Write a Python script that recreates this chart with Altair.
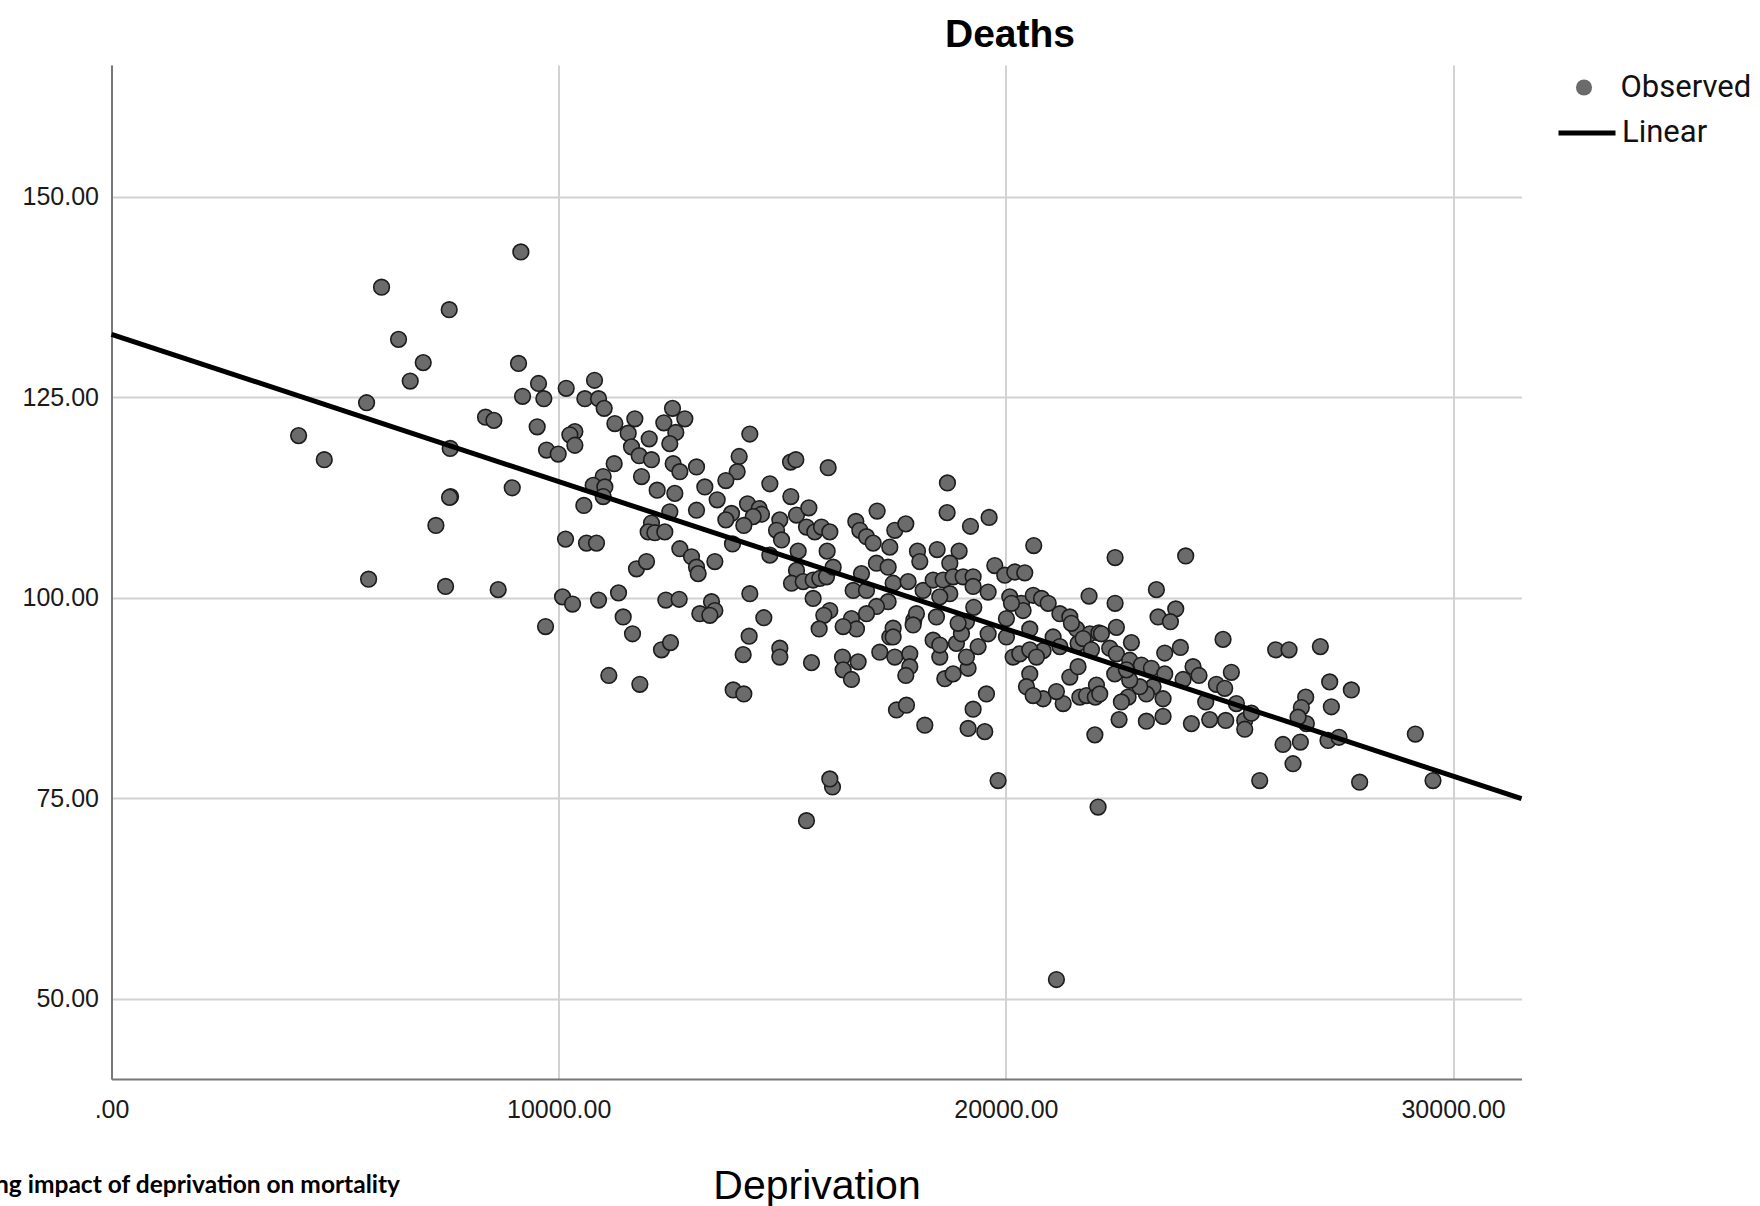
import altair as alt
import pandas as pd

# ---- data ----
deprivation = [
    9154, 6039, 7552, 6419, 6971, 6680, 9102, 5704, 4184, 4758, 7574, 8364, 8551, 9519, 9549, 9192,
    9668, 10168, 10801, 10585, 10891, 11017, 11256, 11703, 11554, 12024, 11628, 11800, 12075, 12545,
    12351, 12821, 12619, 12485, 12560, 12709, 13082, 10362, 10250, 10362, 9728, 9989, 11852, 12202,
    12597, 12485, 13082, 11241, 10995, 10771, 11032, 10995, 10563, 8961, 7582, 7560, 7254, 10153, 10622,
    10846, 12075, 12001, 12150, 12373, 12709, 12970, 13082, 13119, 11740, 11964, 5749, 7470, 8647,
    10086, 10310, 10891, 11338, 12396, 12694, 9706, 11442, 11651, 12299, 12500, 11121, 11815, 13156,
    14274, 14036, 13991, 13738, 13544, 13268, 13492, 13887, 14222, 14483, 14535, 14349, 14140, 13864,
    13738, 14722, 15191, 15318, 15594, 15184, 15303, 16026, 14945, 14871, 14983, 14722, 15355, 15541,
    15727, 15877, 16063, 16003, 15318, 15206, 15467, 15690, 15839, 15989, 15690, 16137, 16063, 15929,
    15824, 16644, 16734, 16883, 17032, 17121, 17404, 17516, 17762, 18693, 18686, 19208, 19625, 20623,
    18023, 18463, 18954, 18075, 18746, 17106, 17367, 16771, 16585, 16883, 17479, 17814, 18149, 18373,
    18597, 18820, 19044, 19267, 19267, 19603, 19752, 19975, 20199, 20422, 18746, 17367, 17106, 16547,
    16883, 16659, 16361, 17941, 18000, 18447, 19282, 19118, 19603, 20012, 20087, 20348, 20612, 20798,
    20946, 21207, 21430, 21580, 21878, 21860, 20012, 20385, 20534, 21056, 20162, 20311, 20534, 20460,
    20833, 21207, 21430, 21281, 20833, 21654, 21803, 22025, 21990, 22062, 19826, 19565, 19267, 19155,
    19528, 18187, 17553, 17777, 18634, 18820, 19155, 18373, 18522, 18894, 19118, 19379, 19006, 17181,
    17516, 17851, 17404, 17479, 17851, 17762, 16346, 16696, 16361, 16547, 15653, 14945, 14945, 14125,
    14259, 14587, 13902, 14140, 14274, 13417, 13492, 13380, 16123, 16063, 15541, 20609, 21615, 21727,
    21614, 21130, 22000, 22080, 21465,
    18522, 18932, 18522, 20534, 20684, 21913, 22844, 20125, 22136, 17926, 17479, 22099,
    22442, 24021, 23366, 22442, 23798, 23403, 23679, 22471, 22807, 22322, 22471, 22769, 23030, 23254,
    23552, 23291, 23515, 23142, 22993, 22732, 22583, 22769, 22434, 22695, 23552, 23902, 24856, 24185,
    24319, 23962, 25042, 24707, 24893, 24469, 24558, 24916, 24148, 23515, 23142, 22531, 25341, 25341,
    25490, 25154, 26033, 26332, 27032, 27241, 27725, 27278, 26704, 26607, 26719, 26533, 27203, 27449,
    26197, 26585, 26421, 25676, 27911, 29156, 29551, 21130,
]
deaths = [
    143.1, 138.7, 135.9, 132.2, 129.3, 127.0, 129.2, 124.3, 120.2, 117.2, 118.6, 122.5, 122.1, 121.3, 126.7, 125.1,
    124.8, 126.1, 127.1, 124.8, 124.8, 123.6, 121.7, 122.3, 120.5, 119.8, 118.8, 117.7, 117.2, 123.6,
    121.8, 122.3, 120.6, 119.2, 116.7, 115.7, 116.3, 120.7, 120.3, 119.0, 118.4, 117.9, 115.1, 113.4,
    113.0, 110.7, 110.9, 116.7, 115.1, 114.0, 113.8, 112.6, 111.5, 113.7, 112.6, 112.5, 109.0, 107.3, 106.8,
    106.8, 109.3, 108.2, 108.1, 108.2, 106.1, 105.1, 103.8, 103.0, 103.6, 104.5, 102.3, 101.4, 101.0,
    100.1, 99.2, 99.7, 100.6, 99.7, 99.8, 96.4, 97.6, 95.5, 93.5, 94.4, 90.3, 89.2, 98.0,
    120.4, 117.6, 115.7, 114.6, 112.2, 113.8, 104.5, 106.7, 111.7, 111.1, 110.4, 110.1, 109.0, 110.5,
    109.7, 114.2, 112.6, 110.3, 111.2, 116.9, 117.2, 116.2, 109.7, 108.4, 107.2, 105.3, 105.8, 108.8,
    108.2, 108.8, 108.2, 105.8, 103.4, 101.8, 102.0, 102.2, 102.4, 102.6, 99.9, 103.8, 98.4, 97.8,
    96.1, 109.5, 108.4, 107.6, 106.8, 110.8, 106.3, 108.4, 109.2, 114.3, 110.6, 108.9, 110.0, 106.5,
    105.8, 106.0, 105.8, 104.5, 104.3, 104.3, 103.8, 103.0, 100.9, 100.9, 101.8, 102.0, 100.9, 102.2,
    102.2, 102.6, 102.6, 102.6, 101.4, 100.7, 104.0, 102.8, 103.2, 103.1, 100.5, 99.5, 98.9, 97.4,
    98.0, 96.1, 96.4, 97.2, 98.0, 97.6, 98.8, 97.0, 95.5, 95.1, 100.1, 99.3, 100.3, 99.9,
    99.3, 98.0, 97.6, 96.1, 95.5, 100.2, 97.4, 98.4, 96.1, 95.1, 92.6, 93.0, 90.5, 88.9,
    93.4, 93.9, 90.1, 86.8, 87.4, 87.6, 87.8, 89.1, 82.9, 73.9, 77.2, 88.0, 86.1, 83.7,
    83.3, 84.1, 86.0, 86.6, 89.9, 90.5, 91.2, 94.7, 92.6, 94.3, 92.6, 93.9, 95.5, 93.2,
    92.6, 93.0, 95.1, 96.2, 91.4, 90.3, 92.6, 92.0, 91.0, 89.8, 91.9, 93.7, 92.6, 92.9,
    95.2, 97.5, 88.5, 88.0, 100.5, 99.5, 98.4, 97.8, 76.4, 77.4, 72.2, 87.8, 94.3, 94.9,
    91.4, 88.3, 87.6, 95.6, 96.8,
    100.1, 96.8, 94.1, 93.5, 92.6, 93.5, 91.4, 99.3, 95.5, 96.6, 95.1, 88.0,
    105.0, 105.2, 101.0, 99.3, 98.6, 97.6, 97.0, 96.3, 94.4, 93.7, 93.0, 92.2, 91.6, 91.2,
    90.5, 88.9, 87.4, 88.0, 88.9, 87.6, 87.0, 89.7, 90.5, 91.0, 93.1, 93.8, 94.8, 91.4,
    90.3, 89.8, 90.7, 89.2, 88.7, 87.0, 84.8, 84.7, 84.3, 85.2, 84.6, 84.8, 84.7, 83.6,
    85.6, 86.8, 93.5, 93.5, 93.9, 89.5, 88.5, 86.4, 87.6, 86.3, 84.3, 85.1, 82.2, 82.6,
    81.7, 82.0, 79.3, 77.2, 77.0, 83.0, 77.2, 52.4,
]

fit_x = [0, 31530]
fit_y = [132.83, 74.94]

x_ticks = [0, 10000, 20000, 30000]
y_ticks = [50, 75, 100, 125, 150]

series_observed = ["Observed"]
series_linear = ["Linear"]
title_text = ["Deaths"]
caption_text = ["Modelling impact of deprivation on mortality"]

pts = pd.DataFrame({"Deprivation": deprivation, "Deaths": deaths, "obs": series_observed[0]})
fit = pd.DataFrame({"Deprivation": fit_x, "Deaths": fit_y, "fit": series_linear[0]})
cap = pd.DataFrame({"t": caption_text})
ttl = pd.DataFrame({"t": title_text})

# ---- layout ----
W, H = 1410, 1014
PAD_L, PAD_T = 111.5, 65
PAD_R = 1760 - PAD_L - W
PAD_B = 1206 - PAD_T - H

FONT = "Liberation Sans, Arial, Helvetica, sans-serif"
LEGFONT = "Roboto, Liberation Sans, sans-serif"

xscale = alt.Scale(domain=[0, 31530], nice=False, zero=False)
yscale = alt.Scale(domain=[40, 166.4], nice=False, zero=False)

x_axis = alt.Axis(
    values=x_ticks,
    labelExpr="datum.value == 0 ? '.00' : format(datum.value, '.2f')",
    title="Deprivation",
    titleFont=FONT, titleFontSize=41, titleFontWeight="normal", titleColor="#000000",
    titleBaseline="alphabetic", titleY=119,
    labelFont=FONT, labelFontSize=25, labelColor="#1a1a1a", labelPadding=18,
    labelFlush=False, labelOverlap=False,
    ticks=False, domainColor="#777777", domainWidth=2,
    grid=True, gridColor="#d2d2d2", gridWidth=2,
)
y_axis = alt.Axis(
    values=y_ticks,
    labelExpr="format(datum.value, '.2f')",
    title=None,
    labelFont=FONT, labelFontSize=25, labelColor="#1a1a1a", labelPadding=13,
    labelFlush=False, labelOverlap=False,
    ticks=False, domainColor="#777777", domainWidth=2,
    grid=True, gridColor="#d2d2d2", gridWidth=2,
)

xenc = alt.X("Deprivation:Q", scale=xscale, axis=x_axis)
yenc = alt.Y("Deaths:Q", scale=yscale, axis=y_axis)

points = alt.Chart(pts).mark_point(
    filled=True, shape="circle", size=245, fill="#6b6b6b", stroke="#1c1c1c",
    strokeWidth=1.6, opacity=1,
).encode(
    x=xenc, y=yenc,
    shape=alt.Shape(
        "obs:N",
        scale=alt.Scale(domain=series_observed, range=["circle"]),
        legend=alt.Legend(
            orient="none", legendX=1457, legendY=7, title=None, padding=0,
            symbolFillColor="#6b6b6b", symbolStrokeColor="#1c1c1c", symbolStrokeWidth=1.6,
            symbolSize=260, symbolOpacity=1,
            labelFont=LEGFONT, labelFontSize=31, labelColor="#111111", labelOffset=21,
        ),
    ),
)

line = alt.Chart(fit).mark_line(color="black", strokeWidth=5).encode(
    x=xenc, y=yenc,
    color=alt.Color(
        "fit:N",
        scale=alt.Scale(domain=series_linear, range=["black"]),
        legend=alt.Legend(
            orient="none", legendX=1444.5, legendY=37, title=None, padding=0,
            symbolType="stroke", symbolStrokeColor="black", symbolStrokeWidth=5,
            symbolSize=3249,
            labelFont=LEGFONT, labelFontSize=31, labelColor="#111111", labelOffset=4,
        ),
    ),
)

title = alt.Chart(ttl).mark_text(
    align="center", baseline="alphabetic", font=FONT, fontWeight="bold",
    fontSize=39, color="#000000",
).encode(text="t:N", x=alt.value(898.5), y=alt.value(-18.3))

caption = alt.Chart(cap).mark_text(
    align="right", baseline="alphabetic", font="Lato, Liberation Sans, sans-serif",
    fontWeight="bold", fontSize=24.5, color="#000000",
).encode(text="t:N", x=alt.value(288.5), y=alt.value(1128))

chart = alt.layer(points, line, title, caption).properties(
    width=W, height=H,
    autosize=alt.AutoSizeParams(type="none"),
    padding={"left": PAD_L, "top": PAD_T, "right": PAD_R, "bottom": PAD_B},
    background="white",
).configure_view(strokeWidth=0)

chart.save("out.html", embed_options={"renderer": "svg", "actions": False})
